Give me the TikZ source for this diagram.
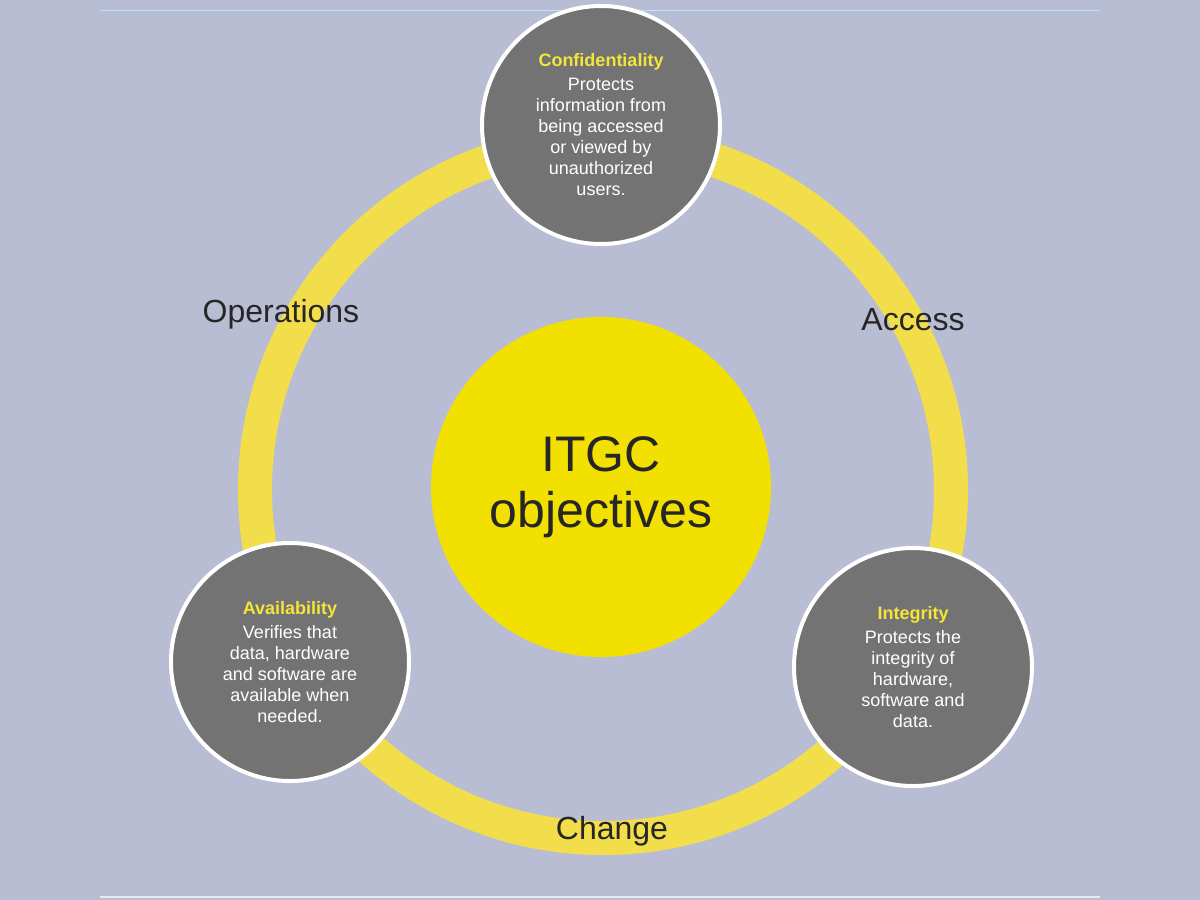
\documentclass[tikz,border=0pt]{standalone}
\usepackage{fontspec}
\setmainfont{Liberation Sans}
\definecolor{bg}{HTML}{B9BDD4}
\definecolor{ring}{HTML}{F2DE4A}
\definecolor{core}{HTML}{F2E000}
\definecolor{disc}{HTML}{737373}
\definecolor{head}{HTML}{F5E43A}
\tikzset{
  obj/.style={circle,draw=white,line width=4pt,fill=disc,minimum size=238pt,inner sep=0pt,align=center,text=white,font=\fontsize{18}{21}\selectfont},
  lab/.style={font=\fontsize{32}{36}\selectfont,text=black!85}
}
\newcommand{\hd}[1]{{\bfseries\color{head}#1}\\[3pt]}
\begin{document}
\begin{tikzpicture}[x=1pt,y=-1pt]
\fill[bg] (0,0) rectangle (1200,900);
\useasboundingbox (0,0) rectangle (1200,900);
\draw[cyan!30,line width=1pt] (100,10) -- (1100,10);
\draw[white!70!bg,line width=2pt] (100,897) -- (1100,897);
\coordinate (c) at (603,490);
\draw[ring,line width=34pt] (c) circle[radius=348];
\node[circle,fill=core,minimum size=340pt,inner sep=0pt,align=center,font=\fontsize{50}{56}\selectfont,text=black!85] (itgc) at (601,487) {ITGC\\objectives};
\node[obj] (conf) at (601,125) {\hd{Confidentiality}Protects\\information from\\being accessed\\or viewed by\\unauthorized\\users.};
\node[obj] (avail) at (290,662) {\hd{Availability}Verifies that\\data, hardware\\and software are\\available when\\needed.};
\node[obj] (integ) at (913,667) {\hd{Integrity}Protects the\\integrity of\\hardware,\\software and\\data.};
\node[lab] (ops) at (281,314) {Operations};
\node[lab] (acc) at (913,320) {Access};
\node[lab] (chg) at (612,831) {Change};
\end{tikzpicture}
\end{document}
